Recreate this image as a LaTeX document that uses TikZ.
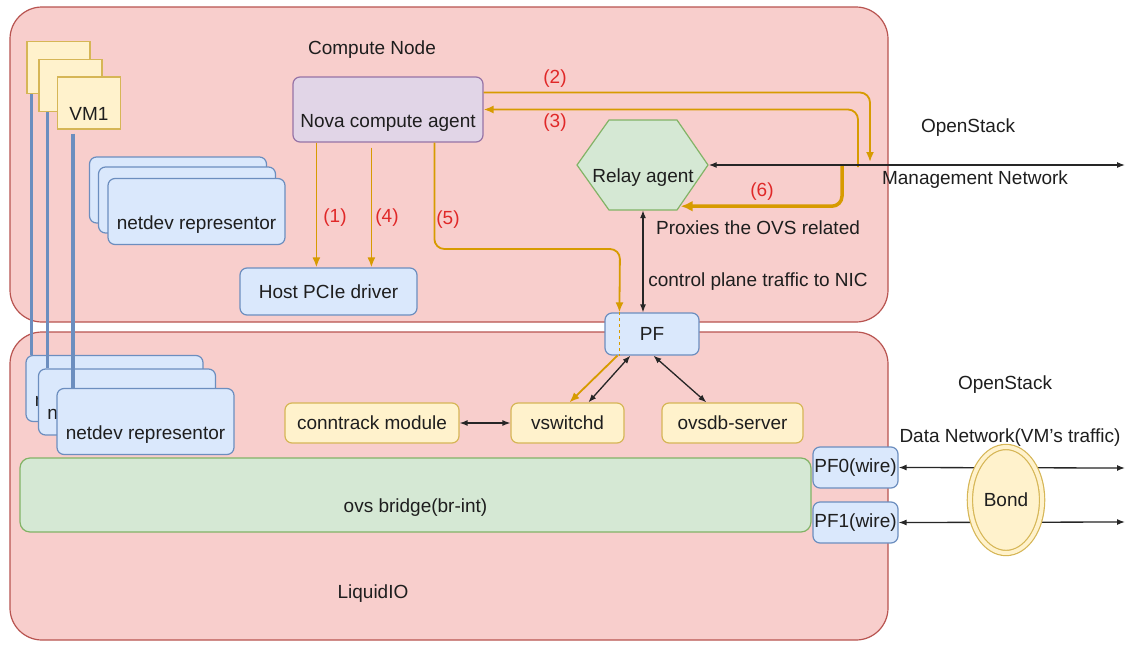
\documentclass[tikz,border=0pt]{standalone}
\usepackage{fontspec}
\setmainfont{Liberation Sans}
\usepackage{xcolor}
\usetikzlibrary{arrows.meta, shapes.geometric}

\definecolor{pinkfill}{HTML}{F8CECC}
\definecolor{pinkline}{HTML}{B85450}
\definecolor{bluefill}{HTML}{DAE8FC}
\definecolor{blueline}{HTML}{6C8EBF}
\definecolor{yelfill}{HTML}{FFF2CC}
\definecolor{yelline}{HTML}{D6B656}
\definecolor{grnfill}{HTML}{D5E8D4}
\definecolor{grnline}{HTML}{82B366}
\definecolor{purfill}{HTML}{E1D5E7}
\definecolor{purline}{HTML}{9673A6}
\definecolor{orangeline}{HTML}{D79B00}
\definecolor{numred}{HTML}{E02828}
\definecolor{txt}{HTML}{1E1E1E}

\tikzset{
	area/.style = {draw=pinkline, fill=pinkfill, line width=1.2pt, rounded corners=32pt},
	box/.style = {draw, line width=1.2pt, rounded corners=7pt, inner sep=2pt},
	bluebox/.style = {box, fill=bluefill, draw=blueline},
	yelbox/.style = {box, fill=yelfill, draw=yelline, minimum height=40pt},
	grnbox/.style = {box, fill=grnfill, draw=grnline},
	purbox/.style = {box, fill=purfill, draw=purline},
	vm/.style = {draw=yelline, fill=yelfill, line width=1.2pt, minimum width=63pt, minimum height=52pt, inner sep=2pt},
	ndsize/.style = {minimum width=177pt, minimum height=66pt},
	lowtext/.style = {text height=39pt, text depth=4pt},
	vmlink/.style = {draw=blueline, line width=3.2pt},
	orng/.style = {draw=orangeline, line width=1.8pt, -{Latex[length=10pt, width=8pt]}},
	ctrl/.style = {draw=black!85, line width=1.3pt, {Latex[length=8pt, width=6pt]}-{Latex[length=8pt, width=6pt]}},
	num/.style = {text=numred},
}

\begin{document}
\begin{tikzpicture}[x=1pt, y=-1pt, font=\fontsize{19}{22}\selectfont, text=txt]
	\useasboundingbox (0,0) rectangle (1128,646);
	\fill[white] (0,0) rectangle (1128,646);

	\node[area, minimum width=878pt, minimum height=315pt] (compute) at (449,164.5) {};
	\node[area, minimum width=878pt, minimum height=308pt] (liquid) at (449,486) {};

	\node (cnlbl) at (372,50) {Compute Node};
	\node (lqlbl) at (373,594) {LiquidIO};

	\foreach \n/\x/\y in {vmA/58.5/67.5, vmB/70.5/85.5}
	{
		\node[vm] (\n) at (\x,\y) {};
	}
	\node[vm, lowtext] (vm1) at (89,103) {VM1};

	\foreach \n/\x/\y in {ndcA/178/190, ndcB/187/200}
	{
		\node[bluebox, ndsize] (\n) at (\x,\y) {};
	}
	\node[bluebox, ndsize, lowtext] (ndc) at (196.5,211.5) {netdev representor};

	\foreach \n/\x/\y in {ndA/114.5/388.5, ndB/127/402, ndC/145.5/421.5}
	{
		\node[bluebox, ndsize, lowtext] (\n) at (\x,\y) {netdev representor};
	}

	\draw[vmlink] ([xshift=5]vmA.south west) -- ([xshift=5]vmA.south west |- ndA.north);
	\draw[vmlink] ([xshift=9]vmB.south west) -- ([xshift=9]vmB.south west |- ndB.north);
	\draw[vmlink] ([xshift=16,yshift=-4]vm1.south west) -- ([xshift=16]vm1.south west |- ndC.north);

	\node[purbox, minimum width=190pt, minimum height=65pt, lowtext] (nova) at (388,109.5) {Nova compute agent};
	\node[bluebox, minimum width=177pt, minimum height=47pt] (host) at (328.5,291.5) {Host PCIe driver};

	\draw[fill=grnfill, draw=grnline, line width=1.2pt] (577,165) -- (609,120) -- (677,120) -- (708,165) -- (677,210) -- (609,210) -- cycle;
	\node[minimum width=131pt, minimum height=90pt, inner sep=0pt, lowtext] (relay) at (643,165) {Relay agent};

	\node[bluebox, minimum width=94pt, minimum height=42pt] (pf) at (652,334) {PF};

	\node[yelbox, minimum width=174pt] (ct) at (372,423) {conntrack module};
	\node[yelbox, minimum width=113pt] (vsw) at (567.5,423) {vswitchd};
	\node[yelbox, minimum width=141pt] (ovsdb) at (732.5,423) {ovsdb-server};

	\node[grnbox, rounded corners=10pt, minimum width=791pt, minimum height=74pt, lowtext] (bridge) at (415.5,495) {ovs bridge(br-int)};
	\node[bluebox, inner xsep=0pt, minimum width=85pt, minimum height=41pt] (pf0) at (855.5,467.5) {PF0(wire)};
	\node[bluebox, inner xsep=0pt, minimum width=85pt, minimum height=41pt] (pf1) at (855.5,522.5) {PF1(wire)};

	\coordinate (bend5) at (620,249);
	\coordinate (mg2) at (870,162);
	\coordinate (mg3) at (858,167);
	\coordinate (mg6) at (842,165);
	\coordinate (mgmt) at (1125,165);
	\coordinate (dn0) at (1125,468);
	\coordinate (dn1) at (1125,522);

	\begin{scope}[orng]
		\draw ([xshift=24]nova.south west) -- ([xshift=24]nova.south west |- host.north);
		\draw ([xshift=79,yshift=-5]nova.south west) -- ([xshift=79]nova.south west |- host.north);
		\draw[rounded corners=10pt] ([xshift=142]nova.south west) |- (bend5) -- ([xshift=15]pf.north west);
		\draw[-, dashed, line width=1.2pt] ([xshift=15]pf.north west) -- ([xshift=15]pf.south west);
		\draw ([xshift=13]pf.south west) -- ([xshift=2]vsw.north);
		\draw[rounded corners=10pt] ([yshift=17]nova.east) -| (mg2);
		\draw[rounded corners=10pt] (mg3) |- (nova.east);
		\draw[line width=3.5pt, rounded corners=10pt, -{Latex[length=12pt, width=11pt]}] (mg6) |- ([shift={(-28,-4)}]relay.south east);
	\end{scope}

	\begin{scope}[ctrl]
		\draw (relay.south) -- (relay.south |- pf.north);
		\draw (relay.east) -- (mgmt);
		\draw ([xshift=26]pf.south west) -- ([xshift=78]vsw.north west);
		\draw ([xshift=49]pf.south west) -- ([xshift=45]ovsdb.north west);
		\draw (ct.east) -- (vsw.west);
		\draw (pf0.east) -- (dn0);
		\draw (pf1.east) -- (dn1);
	\end{scope}

	\node[ellipse, draw=yelline, double=yelfill, double distance=4pt, line width=1.2pt, fill=yelfill, minimum width=62pt, minimum height=106pt] (bond) at (1006,500) {Bond};

	\node[num] (n1) at (335,218) {(1)};
	\node[num] (n4) at (387,218) {(4)};
	\node[num] (n5) at (448,220) {(5)};
	\node[num] (n2) at (555,79) {(2)};
	\node[num] (n3) at (555,123) {(3)};
	\node[num] (n6) at (762,192) {(6)};

	\node (os1) at (968,128) {OpenStack};
	\node (mgnet) at (975,180) {Management Network};
	\node (proxy) at (758,228) {Proxies the OVS related};
	\node (cplane) at (758,282) {control plane traffic to NIC};
	\node (os2) at (1005,385) {OpenStack};
	\node (dnet) at (1010,438) {Data Network(VM's traffic)};
\end{tikzpicture}
\end{document}
